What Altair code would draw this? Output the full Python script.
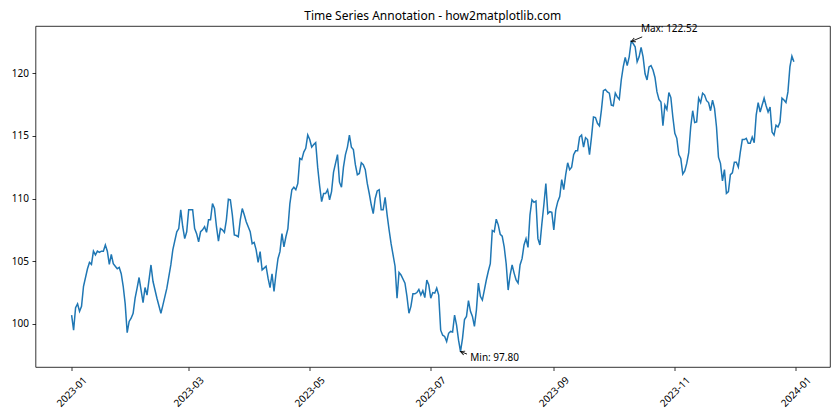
import altair as alt
import pandas as pd
import numpy as np

# ---------------- data ----------------
start_date = "2023-01-01"
day_offsets = [
    0, 1, 2, 3, 4, 5, 6, 8, 9, 10, 11, 12, 13, 14, 15, 16, 17, 18, 19, 20,
    21, 22, 23, 24, 25, 26, 27, 28, 29, 30, 31, 32, 33, 34, 35, 36, 37, 38, 40, 41,
    43, 45, 46, 48, 50, 51, 53, 54, 55, 56, 57, 58, 59, 61, 62, 63, 64, 65, 66, 67,
    68, 69, 70, 71, 72, 73, 74, 75, 76, 77, 78, 79, 80, 81, 82, 83, 84, 85, 86, 87,
    88, 89, 90, 91, 92, 93, 94, 95, 96, 97, 98, 99, 100, 101, 102, 103, 104, 105, 106, 107,
    108, 109, 110, 111, 112, 113, 114, 115, 116, 117, 118, 119, 120, 121, 122, 123, 124, 125, 126, 127,
    128, 129, 130, 131, 132, 134, 135, 136, 137, 138, 139, 140, 141, 142, 143, 144, 145, 146, 147, 148,
    149, 150, 151, 152, 153, 154, 155, 156, 157, 158, 159, 160, 161, 162, 163, 164, 165, 166, 168, 169,
    170, 171, 172, 173, 174, 175, 176, 177, 178, 179, 180, 181, 182, 183, 184, 185, 186, 187, 188, 189,
    190, 191, 192, 193, 194, 195, 196, 197, 198, 199, 200, 201, 202, 203, 204, 205, 206, 207, 208, 209,
    210, 211, 212, 213, 214, 215, 216, 217, 218, 219, 220, 221, 222, 223, 224, 225, 226, 227, 228, 229,
    230, 231, 232, 233, 234, 235, 236, 237, 238, 239, 240, 241, 242, 243, 244, 245, 246, 247, 248, 249,
    250, 251, 252, 253, 254, 255, 256, 257, 258, 259, 260, 261, 262, 263, 264, 265, 266, 267, 268, 269,
    270, 271, 272, 273, 274, 275, 276, 277, 278, 279, 280, 281, 282, 283, 284, 285, 286, 287, 288, 289,
    290, 291, 292, 293, 294, 295, 296, 297, 298, 299, 300, 301, 302, 303, 304, 305, 306, 307, 308, 309,
    310, 311, 312, 313, 314, 315, 316, 317, 318, 319, 320, 321, 322, 323, 324, 325, 326, 327, 328, 329,
    330, 331, 332, 333, 334, 335, 336, 337, 338, 339, 340, 341, 342, 343, 344, 345, 346, 347, 348, 349,
    350, 351, 352, 353, 354, 355, 356, 357, 358, 359, 360, 361, 362, 363, 364,
]
values = [
    100.7, 99.5, 101.3, 101.6, 101.0, 101.4, 103.0, 104.4, 104.9, 104.75, 105.8, 105.5, 105.8, 105.7, 105.8, 105.8, 106.3, 105.8, 104.75, 105.55,
    104.8, 104.6, 104.4, 104.5, 104.0, 103.0, 101.6, 99.3, 100.2, 100.45, 100.85, 102.05, 102.85, 103.7, 102.7, 101.7, 102.9, 102.3, 104.7, 103.4,
    102.05, 100.85, 101.5, 102.85, 104.7, 105.9, 107.35, 107.6, 109.1, 107.75, 106.8, 107.35, 109.1, 109.1, 107.6, 107.2, 106.55, 107.35, 107.5, 107.75,
    107.3, 108.3, 108.3, 109.6, 109.2, 107.75, 106.6, 107.6, 107.5, 107.3, 108.3, 109.95, 109.9, 108.7, 107.1, 107.05, 106.95, 108.3, 109.2, 108.7,
    108.15, 107.75, 107.35, 106.4, 106.5, 105.9, 104.9, 105.76, 104.3, 104.45, 104.6, 103.65, 102.9, 104.0, 102.6, 104.0, 105.2, 105.76, 107.2, 106.15,
    106.95, 107.6, 109.6, 110.7, 110.9, 110.7, 111.2, 113.2, 113.1, 113.7, 114.0, 115.06, 114.7, 114.1, 114.3, 114.45, 112.5, 111.0, 109.75, 110.4,
    110.4, 110.7, 109.9, 110.55, 112.1, 113.5, 111.3, 110.9, 112.5, 113.5, 114.1, 115.06, 114.1, 113.9, 112.7, 111.9, 112.0, 112.85, 112.7, 112.3,
    111.2, 110.4, 109.5, 108.8, 110.0, 110.6, 110.7, 109.1, 109.1, 110.1, 108.7, 107.5, 106.4, 105.5, 104.6, 102.05, 104.1, 103.9, 103.25, 102.2,
    100.85, 101.4, 102.4, 102.4, 102.5, 102.75, 102.3, 102.65, 102.1, 103.5, 103.1, 102.05, 102.5, 102.45, 102.85, 102.3, 99.5, 99.1, 99.0, 98.6,
    99.25, 99.4, 99.35, 100.7, 99.9, 98.7, 97.8, 98.85, 100.35, 100.6, 101.85, 101.0, 100.6, 99.8, 101.1, 103.25, 102.2, 101.9, 102.7, 103.5,
    104.2, 104.8, 107.45, 107.35, 108.35, 107.9, 107.15, 107.0, 106.15, 104.8, 102.7, 103.9, 104.7, 104.05, 103.5, 103.25, 104.7, 105.2, 106.3, 106.8,
    106.1, 108.7, 109.9, 109.7, 109.8, 106.8, 106.3, 108.0, 109.5, 111.2, 108.8, 108.95, 108.9, 107.5, 109.1, 109.75, 110.15, 111.5, 110.7, 111.9,
    112.85, 112.3, 112.5, 113.5, 113.8, 113.8, 114.9, 115.06, 114.1, 114.85, 114.7, 113.5, 114.9, 116.5, 116.45, 116.0, 115.8, 117.05, 118.6, 118.7,
    118.5, 118.4, 117.45, 117.4, 118.4, 118.1, 117.9, 119.45, 120.5, 121.25, 120.6, 121.3, 122.52, 122.36, 122.1, 120.9, 121.3, 122.05, 121.3, 119.95,
    119.45, 120.5, 120.6, 120.25, 119.65, 118.5, 117.9, 117.7, 115.8, 117.45, 117.1, 118.45, 118.05, 116.5, 115.2, 114.8, 113.5, 113.2, 111.95, 112.2,
    112.8, 113.65, 115.7, 117.0, 116.05, 116.1, 118.0, 117.65, 118.4, 118.25, 117.8, 117.65, 117.0, 117.85, 117.2, 115.7, 113.3, 112.8, 111.4, 112.3,
    110.4, 110.55, 111.9, 112.05, 112.9, 112.9, 112.5, 113.7, 114.7, 114.7, 114.8, 114.4, 114.4, 114.9, 114.45, 116.65, 117.65, 116.9, 117.45, 118.0,
    117.4, 116.9, 117.3, 115.3, 115.06, 115.85, 115.7, 116.1, 118.0, 117.85, 117.65, 118.5, 120.5, 121.35, 120.9,
]
y_ticks = [100, 105, 110, 115, 120]
x_tick_dates = ["2023-01-01", "2023-03-01", "2023-05-01", "2023-07-01",
                "2023-09-01", "2023-11-01", "2024-01-01"]
title_text = "Time Series Annotation - how2matplotlib.com"

# ---------------- build tables ----------------
base = pd.Timestamp(start_date)
dates = [(base + pd.Timedelta(days=d)).strftime("%Y-%m-%d") for d in day_offsets]
df = pd.DataFrame({"date": dates, "value": values})

imax = int(np.argmax(values))
imin = int(np.argmin(values))
ann_max = pd.DataFrame({"date": [dates[imax]], "value": [values[imax]],
                        "label": [f"Max: {values[imax]:.2f}"]})
ann_min = pd.DataFrame({"date": [dates[imin]], "value": [values[imin]],
                        "label": [f"Min: {values[imin]:.2f}"]})


def ms(ts):
    return int(pd.Timestamp(ts).value // 10**6)


span = day_offsets[-1] - day_offsets[0]
xdom = [ms(base + pd.Timedelta(days=day_offsets[0] - 0.05 * span)),
        ms(base + pd.Timedelta(days=day_offsets[-1] + 0.05 * span))]
vr = max(values) - min(values)
ydom = [min(values) - 0.05 * vr, max(values) + 0.05 * vr]

FONT = "Noto Sans"

x_enc = alt.X("date:T", title=None,
              scale=alt.Scale(type="utc", domain=xdom),
              axis=alt.Axis(values=[ms(d) for d in x_tick_dates], format="%Y-%m",
                            labelAngle=315, labelAlign="center", grid=False,
                            labelBaseline="middle", labelPadding=21))
y_enc = alt.Y("value:Q", title=None,
              scale=alt.Scale(domain=ydom, nice=False, zero=False),
              axis=alt.Axis(values=y_ticks, grid=False))

line = alt.Chart(df).mark_line(color="#1f77b4", strokeWidth=1.5).encode(x=x_enc, y=y_enc)

layers = [line]
# annotation: text offset (10pt, +/-10pt), arrow from text to point
for ann, dy, tail_dx, tail_dy in [(ann_max, -9.7, 11, -4.6), (ann_min, 9.7, 6.5, 2.6)]:
    txt = alt.Chart(ann).mark_text(align="left", baseline="alphabetic", dx=9.7, dy=dy,
                                   font=FONT, fontSize=10, color="black").encode(
        x=x_enc, y=y_enc, text="label:N")
    rule = alt.Chart(ann).mark_rule(color="black", strokeWidth=0.9,
                                    x2Offset=tail_dx, y2Offset=tail_dy).encode(
        x=x_enc, y=y_enc, x2="date:T", y2="value:Q")
    ang = float(np.degrees(np.arctan2(tail_dy, tail_dx))) % 360
    head = alt.Chart(ann).mark_point(shape="M1,-0.5L0,0L1,0.5", size=70, filled=False,
                                     color="black", strokeWidth=0.9, angle=ang,
                                     opacity=1).encode(x=x_enc, y=y_enc)
    layers += [rule, head, txt]

chart = alt.layer(*layers).properties(
    width=794.5, height=341,
    title=alt.TitleParams(title_text, font=FONT, fontSize=12, fontWeight="normal",
                          color="black", anchor="middle", offset=1),
    autosize=alt.AutoSizeParams(type="none"),
    padding={"left": 35.5, "top": 26, "right": 10, "bottom": 53},
    background="white",
).configure_view(stroke="black", strokeWidth=0.8).configure_axis(
    domain=False, grid=False, tickColor="black", tickWidth=0.8, tickSize=3.5,
    labelFont=FONT, labelFontSize=10, labelColor="black", labelPadding=3.5,
    labelFlush=False, labelOverlap=False,
)

chart.save("out.html", embed_options={"renderer": "svg", "actions": False})
